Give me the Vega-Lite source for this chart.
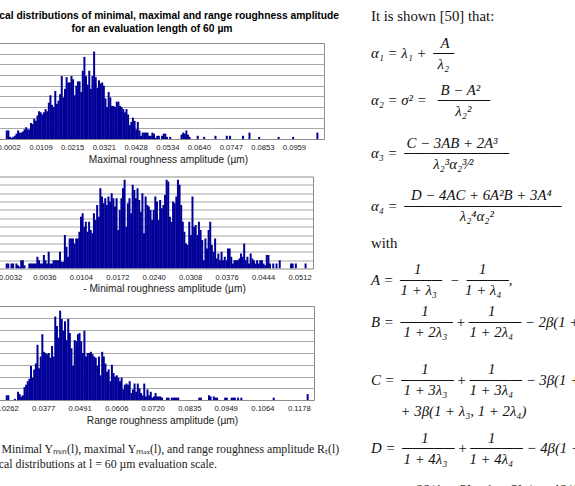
{
  "$schema": "https://vega.github.io/schema/vega-lite/v6.json",
  "background": "white",
  "padding": {"left": -36, "top": 9, "right": 0, "bottom": 0},
  "config": {
    "view": {"stroke": "#8c8c8c", "strokeWidth": 1},
    "axis": {"labelFont": "Liberation Sans", "labelFontSize": 7.6, "labelColor": "#222222", "titleFont": "Liberation Sans", "titleFontSize": 10.2, "titleFontWeight": "normal", "titleColor": "#222222", "ticks": false, "tickSize": 0, "domain": false, "labelPadding": 4.5, "titlePadding": 3, "gridColor": "#a8a8a8", "gridWidth": 1}
  },
  "datasets": {
    "p1": [
      {"v":-0.00044,"n":8},{"v":0.00010,"n":8},{"v":0.00064,"n":2},{"v":0.00118,"n":1},{"v":0.00173,"n":2},{"v":0.00227,"n":3},{"v":0.00281,"n":5},{"v":0.00336,"n":8},{"v":0.00390,"n":6},{"v":0.00444,"n":6},
      {"v":0.00498,"n":7},{"v":0.00553,"n":9},{"v":0.00607,"n":11},{"v":0.00661,"n":9},{"v":0.00716,"n":9},{"v":0.00770,"n":15},{"v":0.00824,"n":14},{"v":0.00878,"n":19},{"v":0.00933,"n":17},{"v":0.00987,"n":22},
      {"v":0.01041,"n":26},{"v":0.01096,"n":25},{"v":0.01150,"n":23},{"v":0.01204,"n":25},{"v":0.01258,"n":28},{"v":0.01313,"n":26},{"v":0.01367,"n":34},{"v":0.01421,"n":41},{"v":0.01475,"n":32},{"v":0.01530,"n":30},
      {"v":0.01584,"n":45},{"v":0.01638,"n":33},{"v":0.01693,"n":36},{"v":0.01747,"n":42},{"v":0.01801,"n":59},{"v":0.01855,"n":39},{"v":0.01910,"n":47},{"v":0.01964,"n":58},{"v":0.02018,"n":53},{"v":0.02073,"n":53},
      {"v":0.02127,"n":59},{"v":0.02181,"n":56},{"v":0.02235,"n":41},{"v":0.02290,"n":50},{"v":0.02344,"n":54},{"v":0.02398,"n":54},{"v":0.02453,"n":44},{"v":0.02507,"n":64},{"v":0.02561,"n":77},{"v":0.02615,"n":59},
      {"v":0.02670,"n":51},{"v":0.02724,"n":64},{"v":0.02778,"n":47},{"v":0.02832,"n":59},{"v":0.02887,"n":82},{"v":0.02941,"n":58},{"v":0.02995,"n":48},{"v":0.03050,"n":55},{"v":0.03104,"n":52},{"v":0.03158,"n":53},
      {"v":0.03212,"n":50},{"v":0.03267,"n":38},{"v":0.03321,"n":30},{"v":0.03375,"n":44},{"v":0.03430,"n":39},{"v":0.03484,"n":31},{"v":0.03538,"n":31},{"v":0.03592,"n":30},{"v":0.03647,"n":35},{"v":0.03701,"n":35},
      {"v":0.03755,"n":31},{"v":0.03810,"n":30},{"v":0.03864,"n":28},{"v":0.03918,"n":25},{"v":0.03972,"n":28},{"v":0.04027,"n":23},{"v":0.04081,"n":13},{"v":0.04135,"n":16},{"v":0.04189,"n":20},{"v":0.04244,"n":17},
      {"v":0.04298,"n":9},{"v":0.04352,"n":16},{"v":0.04407,"n":8},{"v":0.04461,"n":3},{"v":0.04515,"n":6},{"v":0.04569,"n":6},{"v":0.04624,"n":6},{"v":0.04678,"n":6},{"v":0.04732,"n":3},{"v":0.04787,"n":3},
      {"v":0.04841,"n":6},{"v":0.04895,"n":5},{"v":0.04949,"n":1},{"v":0.05004,"n":3},{"v":0.05058,"n":3},{"v":0.05166,"n":3},{"v":0.05221,"n":5},{"v":0.05275,"n":5},{"v":0.05329,"n":2},{"v":0.05438,"n":2},
      {"v":0.05818,"n":4},{"v":0.05872,"n":6},{"v":0.05926,"n":5},{"v":0.05981,"n":8},{"v":0.06035,"n":4},{"v":0.06089,"n":2},{"v":0.06361,"n":3},{"v":0.06578,"n":2},{"v":0.06958,"n":3},{"v":0.07338,"n":3},
      {"v":0.07446,"n":3},{"v":0.07880,"n":3},{"v":0.08098,"n":6},{"v":0.08423,"n":2},{"v":0.09075,"n":2},{"v":0.09563,"n":2},{"v":0.10377,"n":6}
    ],
    "p2": [
      {"v":-0.00342,"n":3},{"v":-0.00312,"n":3},{"v":-0.00252,"n":3},{"v":-0.00222,"n":3},{"v":-0.00161,"n":3},{"v":-0.00131,"n":2},{"v":-0.00101,"n":1},{"v":-0.00071,"n":5},{"v":-0.00041,"n":5},{"v":-0.00011,"n":2},
      {"v":0.00080,"n":3},{"v":0.00110,"n":3},{"v":0.00140,"n":3},{"v":0.00170,"n":3},{"v":0.00200,"n":3},{"v":0.00230,"n":7},{"v":0.00261,"n":5},{"v":0.00291,"n":3},{"v":0.00321,"n":3},{"v":0.00351,"n":8},
      {"v":0.00381,"n":5},{"v":0.00411,"n":3},{"v":0.00441,"n":10},{"v":0.00471,"n":3},{"v":0.00502,"n":3},{"v":0.00532,"n":5},{"v":0.00562,"n":5},{"v":0.00592,"n":5},{"v":0.00622,"n":5},{"v":0.00652,"n":10},
      {"v":0.00682,"n":4},{"v":0.00712,"n":4},{"v":0.00743,"n":20},{"v":0.00773,"n":13},{"v":0.00803,"n":7},{"v":0.00833,"n":18},{"v":0.00863,"n":18},{"v":0.00893,"n":18},{"v":0.00923,"n":15},{"v":0.00954,"n":18},
      {"v":0.00984,"n":18},{"v":0.01014,"n":22},{"v":0.01044,"n":31},{"v":0.01074,"n":33},{"v":0.01104,"n":25},{"v":0.01134,"n":28},{"v":0.01164,"n":22},{"v":0.01195,"n":28},{"v":0.01225,"n":23},{"v":0.01255,"n":21},
      {"v":0.01285,"n":33},{"v":0.01315,"n":29},{"v":0.01345,"n":38},{"v":0.01375,"n":31},{"v":0.01405,"n":48},{"v":0.01436,"n":43},{"v":0.01466,"n":39},{"v":0.01496,"n":42},{"v":0.01526,"n":38},{"v":0.01556,"n":43},
      {"v":0.01586,"n":40},{"v":0.01616,"n":45},{"v":0.01647,"n":42},{"v":0.01677,"n":37},{"v":0.01707,"n":42},{"v":0.01737,"n":23},{"v":0.01767,"n":35},{"v":0.01797,"n":42},{"v":0.01827,"n":48},{"v":0.01857,"n":53},
      {"v":0.01888,"n":25},{"v":0.01918,"n":39},{"v":0.01948,"n":42},{"v":0.01978,"n":33},{"v":0.02008,"n":50},{"v":0.02038,"n":47},{"v":0.02068,"n":42},{"v":0.02098,"n":48},{"v":0.02129,"n":41},{"v":0.02159,"n":34},
      {"v":0.02189,"n":45},{"v":0.02219,"n":21},{"v":0.02249,"n":43},{"v":0.02279,"n":38},{"v":0.02309,"n":37},{"v":0.02340,"n":35},{"v":0.02370,"n":29},{"v":0.02400,"n":35},{"v":0.02430,"n":43},{"v":0.02460,"n":40},
      {"v":0.02490,"n":29},{"v":0.02520,"n":41},{"v":0.02550,"n":36},{"v":0.02581,"n":38},{"v":0.02611,"n":44},{"v":0.02641,"n":53},{"v":0.02671,"n":52},{"v":0.02701,"n":31},{"v":0.02731,"n":28},{"v":0.02761,"n":40},
      {"v":0.02791,"n":39},{"v":0.02822,"n":43},{"v":0.02852,"n":53},{"v":0.02882,"n":50},{"v":0.02912,"n":38},{"v":0.02942,"n":28},{"v":0.02972,"n":22},{"v":0.03002,"n":15},{"v":0.03032,"n":14},{"v":0.03063,"n":28},
      {"v":0.03093,"n":20},{"v":0.03123,"n":43},{"v":0.03153,"n":25},{"v":0.03183,"n":26},{"v":0.03213,"n":20},{"v":0.03243,"n":28},{"v":0.03274,"n":23},{"v":0.03304,"n":17},{"v":0.03334,"n":5},{"v":0.03364,"n":18},
      {"v":0.03394,"n":12},{"v":0.03424,"n":23},{"v":0.03454,"n":28},{"v":0.03484,"n":14},{"v":0.03515,"n":10},{"v":0.03545,"n":18},{"v":0.03575,"n":6},{"v":0.03605,"n":9},{"v":0.03635,"n":5},{"v":0.03665,"n":10},
      {"v":0.03695,"n":5},{"v":0.03725,"n":7},{"v":0.03756,"n":5},{"v":0.03786,"n":12},{"v":0.03816,"n":12},{"v":0.03846,"n":7},{"v":0.03876,"n":3},{"v":0.03906,"n":5},{"v":0.03936,"n":5},{"v":0.03967,"n":5},
      {"v":0.03997,"n":6},{"v":0.04027,"n":9},{"v":0.04057,"n":7},{"v":0.04087,"n":15},{"v":0.04117,"n":5},{"v":0.04147,"n":7},{"v":0.04177,"n":3},{"v":0.04208,"n":9},{"v":0.04238,"n":6},{"v":0.04268,"n":5},
      {"v":0.04298,"n":3},{"v":0.04328,"n":5},{"v":0.04358,"n":3},{"v":0.04388,"n":5},{"v":0.04418,"n":5},{"v":0.04449,"n":3},{"v":0.04479,"n":2},{"v":0.04509,"n":8},{"v":0.04539,"n":8},{"v":0.04569,"n":3},
      {"v":0.04629,"n":3},{"v":0.04690,"n":3},{"v":0.04750,"n":5},{"v":0.04961,"n":3},{"v":0.04991,"n":3},{"v":0.05051,"n":3},{"v":0.05232,"n":3}
    ],
    "p3": [
      {"v":0.02628,"n":4},{"v":0.02679,"n":4},{"v":0.02882,"n":1},{"v":0.02983,"n":7},{"v":0.03034,"n":5},{"v":0.03085,"n":3},{"v":0.03135,"n":4},{"v":0.03186,"n":11},{"v":0.03237,"n":13},{"v":0.03287,"n":16},
      {"v":0.03338,"n":18},{"v":0.03389,"n":29},{"v":0.03439,"n":19},{"v":0.03490,"n":26},{"v":0.03541,"n":31},{"v":0.03592,"n":47},{"v":0.03642,"n":27},{"v":0.03693,"n":37},{"v":0.03744,"n":56},{"v":0.03794,"n":41},
      {"v":0.03845,"n":40},{"v":0.03896,"n":39},{"v":0.03946,"n":40},{"v":0.03997,"n":36},{"v":0.04048,"n":46},{"v":0.04099,"n":37},{"v":0.04149,"n":71},{"v":0.04200,"n":63},{"v":0.04251,"n":53},{"v":0.04301,"n":76},
      {"v":0.04352,"n":69},{"v":0.04403,"n":59},{"v":0.04453,"n":67},{"v":0.04504,"n":51},{"v":0.04555,"n":69},{"v":0.04606,"n":57},{"v":0.04656,"n":44},{"v":0.04707,"n":29},{"v":0.04758,"n":51},{"v":0.04808,"n":50},
      {"v":0.04859,"n":56},{"v":0.04910,"n":57},{"v":0.04960,"n":50},{"v":0.05011,"n":40},{"v":0.05062,"n":59},{"v":0.05113,"n":37},{"v":0.05163,"n":40},{"v":0.05214,"n":40},{"v":0.05265,"n":41},{"v":0.05315,"n":39},
      {"v":0.05366,"n":37},{"v":0.05417,"n":36},{"v":0.05467,"n":29},{"v":0.05518,"n":37},{"v":0.05569,"n":21},{"v":0.05620,"n":41},{"v":0.05670,"n":37},{"v":0.05721,"n":31},{"v":0.05772,"n":24},{"v":0.05822,"n":26},
      {"v":0.05873,"n":16},{"v":0.05924,"n":30},{"v":0.05974,"n":23},{"v":0.06025,"n":20},{"v":0.06076,"n":21},{"v":0.06127,"n":19},{"v":0.06177,"n":16},{"v":0.06228,"n":19},{"v":0.06279,"n":9},{"v":0.06329,"n":13},
      {"v":0.06380,"n":14},{"v":0.06431,"n":13},{"v":0.06481,"n":16},{"v":0.06532,"n":6},{"v":0.06583,"n":9},{"v":0.06634,"n":14},{"v":0.06684,"n":7},{"v":0.06735,"n":14},{"v":0.06786,"n":10},{"v":0.06836,"n":6},
      {"v":0.06887,"n":4},{"v":0.06938,"n":14},{"v":0.06988,"n":3},{"v":0.07039,"n":9},{"v":0.07090,"n":4},{"v":0.07141,"n":7},{"v":0.07191,"n":2},{"v":0.07242,"n":3},{"v":0.07293,"n":6},{"v":0.07343,"n":3},
      {"v":0.07394,"n":3},{"v":0.07445,"n":3},{"v":0.07495,"n":2},{"v":0.07648,"n":2},{"v":0.07698,"n":2},{"v":0.07800,"n":2},{"v":0.07850,"n":2},{"v":0.07901,"n":2},{"v":0.07952,"n":2},{"v":0.08002,"n":2},
      {"v":0.08662,"n":2},{"v":0.08712,"n":2},{"v":0.08966,"n":4},{"v":0.09016,"n":3},{"v":0.09118,"n":3},{"v":0.09169,"n":2},{"v":0.09219,"n":2},{"v":0.09473,"n":2},{"v":0.09523,"n":2},{"v":0.09676,"n":2},
      {"v":0.09726,"n":2},{"v":0.09777,"n":2},{"v":0.09878,"n":2},{"v":0.09980,"n":2},{"v":0.10994,"n":2},{"v":0.12058,"n":5}
    ],
    "txt": [
      {"line":0,"kind":"prose","text":"It is shown [50] that:"},
      {"line":5,"kind":"math","text":"\u200b\u2002\u2002\u2002\u2002\u2002\u2002\u2002\u2002\u2002\u2009A"},
      {"line":7,"kind":"math","text":"\u03b1\u2081 = \u03bb\u2081 + \u2009\u2500\u2500"},
      {"line":9,"kind":"math","text":"\u200b\u2002\u2002\u2002\u2002\u2002\u2002\u2002\u2002\u2002\u03bb\u2082"},
      {"line":14,"kind":"math","text":"\u200b\u2002\u2002\u2002\u2002\u2002\u2002\u2002\u2002\u2002\u2009B \u2212 A\u00b2"},
      {"line":16,"kind":"math","text":"\u03b1\u2082 = \u03c3\u00b2 = \u2002\u2500\u2500\u2500\u2500\u2500"},
      {"line":18,"kind":"math","text":"\u200b\u2002\u2002\u2002\u2002\u2002\u2002\u2002\u2002\u2002\u2002\u2002\u2009\u03bb\u2082\u00b2"},
      {"line":24,"kind":"math","text":"\u200b\u2002\u2002\u2002\u2002\u2009\u2009C \u2212 3AB + 2A\u00b3"},
      {"line":26,"kind":"math","text":"\u03b1\u2083 = \u2009\u2500\u2500\u2500\u2500\u2500\u2500\u2500\u2500\u2500\u2500"},
      {"line":28,"kind":"math","text":"\u200b\u2002\u2002\u2002\u2002\u2002\u2002\u2002\u2002\u2009\u03bb\u2082\u00b3\u03b1\u2082\u00b3\u2044\u00b2"},
      {"line":34,"kind":"math","text":"\u200b\u2002\u2002\u2002\u2002\u2002\u2009D \u2212 4AC + 6A\u00b2B + 3A\u2074"},
      {"line":36,"kind":"math","text":"\u03b1\u2084 = \u2009\u2500\u2500\u2500\u2500\u2500\u2500\u2500\u2500\u2500\u2500\u2500\u2500\u2500\u2500\u2500"},
      {"line":38,"kind":"math","text":"\u200b\u2002\u2002\u2002\u2002\u2002\u2002\u2002\u2002\u2002\u2002\u2002\u2002\u03bb\u2082\u2074\u03b1\u2082\u00b2"},
      {"line":43,"kind":"prose","text":"with"},
      {"line":48,"kind":"math","text":"\u200b\u2002\u2002\u2002\u2002\u2002\u2009\u20091\u2002\u2002\u2002\u2002\u2002\u2002\u2002\u2009\u20091"},
      {"line":50,"kind":"math","text":"A = \u2009\u2500\u2500\u2500\u2500\u2002\u2212\u2002\u2500\u2500\u2500\u2500,"},
      {"line":52,"kind":"math","text":"\u200b\u2002\u2002\u2002\u20021 + \u03bb\u2083\u2002\u2002\u2002\u2009\u20091 + \u03bb\u2084"},
      {"line":56,"kind":"math","text":"\u200b\u2002\u2002\u2002\u2002\u2002\u2002\u2009\u20091\u2002\u2002\u2002\u2002\u2002\u2002\u2002\u20021"},
      {"line":58,"kind":"math","text":"B = \u2009\u2500\u2500\u2500\u2500\u2500\u2009+\u2009\u2500\u2500\u2500\u2500\u2500 \u2212 2\u03b2(1 + \u03bb\u2083, 1 + \u03bb\u2084)"},
      {"line":60,"kind":"math","text":"\u200b\u2002\u2002\u2002\u2002\u20091 + 2\u03bb\u2083\u2002\u2002\u20021 + 2\u03bb\u2084"},
      {"line":67,"kind":"math","text":"\u200b\u2002\u2002\u2002\u2002\u2002\u2002\u2009\u20091\u2002\u2002\u2002\u2002\u2002\u2002\u2002\u20021"},
      {"line":69,"kind":"math","text":"C = \u2009\u2500\u2500\u2500\u2500\u2500\u2009+\u2009\u2500\u2500\u2500\u2500\u2500 \u2212 3\u03b2(1 + 2\u03bb\u2083, 1 + \u03bb\u2084)"},
      {"line":71,"kind":"math","text":"\u200b\u2002\u2002\u2002\u2002\u20091 + 3\u03bb\u2083\u2002\u2002\u20021 + 3\u03bb\u2084"},
      {"line":75,"kind":"math","text":"\u200b\u2002\u2002\u2002\u2002+ 3\u03b2(1 + \u03bb\u2083, 1 + 2\u03bb\u2084)"},
      {"line":80,"kind":"math","text":"\u200b\u2002\u2002\u2002\u2002\u2002\u2002\u2009\u20091\u2002\u2002\u2002\u2002\u2002\u2002\u2002\u20021"},
      {"line":82,"kind":"math","text":"D = \u2009\u2500\u2500\u2500\u2500\u2500\u2009+\u2009\u2500\u2500\u2500\u2500\u2500 \u2212 4\u03b2(1 + 3\u03bb\u2083, 1 + \u03bb\u2084)"},
      {"line":84,"kind":"math","text":"\u200b\u2002\u2002\u2002\u2002\u20091 + 4\u03bb\u2083\u2002\u2002\u20021 + 4\u03bb\u2084"},
      {"line":90,"kind":"math","text":"\u200b\u2002\u2002\u2002\u2002+ 6\u03b2(1 + 2\u03bb\u2083, 1 + 2\u03bb\u2084) \u2212 4\u03b2(1 + \u03bb\u2083, 1 + 3\u03bb\u2084)"}
    ]
  },
  "hconcat": [
    {
      "spacing": 10.5,
      "resolve": {"scale": {"x": "independent", "y": "independent"}},
      "vconcat": [
        {
          "width": 353, "height": 96,
          "title": {"text": ["Statistical distributions of minimal, maximal and range roughness amplitude", "for an evaluation length of 60 \u00b5m"], "anchor": "middle", "frame": "group", "dx": 4.5, "font": "Liberation Sans", "fontSize": 10.3, "fontWeight": "bold", "lineHeight": 12.5, "offset": 9, "color": "#000000"},
          "data": {"name": "p1"},
          "mark": {"type": "bar", "width": 2, "color": "#000099", "clip": true},
          "encoding": {
            "x": {"field": "v", "type": "quantitative", "scale": {"domain": [-0.010757, 0.104302], "nice": false, "zero": false},
                  "axis": {"values": [0.0002, 0.0109, 0.0215, 0.0321, 0.0428, 0.0534, 0.0640, 0.0747, 0.0853, 0.0959], "format": ".4f", "grid": false, "title": "Maximal roughness amplitude (\u00b5m)", "titleX": 197, "labelFlush": false, "labelOverlap": false}},
            "y": {"field": "n", "type": "quantitative", "scale": {"domain": [0, 90], "nice": false},
                  "axis": {"values": [10, 20, 30, 40, 50, 60, 70, 80], "grid": true, "labels": false, "ticks": false, "domain": false, "title": null}}
          }
        },
        {
          "width": 342, "height": 92,
          "data": {"name": "p2"},
          "mark": {"type": "bar", "width": 2, "color": "#000099", "clip": true},
          "encoding": {
            "x": {"field": "v", "type": "quantitative", "scale": {"domain": [-0.009146, 0.052773], "nice": false, "zero": false},
                  "axis": {"values": [-0.0032, 0.0036, 0.0104, 0.0172, 0.0240, 0.0308, 0.0376, 0.0444, 0.0512], "format": ".4f", "grid": false, "title": "- Minimal roughness amplitude (\u00b5m)", "titleX": 193, "labelFlush": false, "labelOverlap": false}},
            "y": {"field": "n", "type": "quantitative", "scale": {"domain": [0, 55], "nice": false},
                  "axis": {"values": [5, 10, 15, 20, 25, 30, 35, 40, 45, 50], "grid": true, "labels": false, "ticks": false, "domain": false, "title": null}}
          }
        },
        {
          "width": 343, "height": 94,
          "data": {"name": "p3"},
          "title": {"text": ["Fig. 5. Minimal Y\u2098\u1d62\u2099(l), maximal Y\u2098\u2090\u2093(l), and range roughness amplitude R\u209c(l)", "statistical distributions at l = 60 \u00b5m evaluation scale."], "orient": "bottom", "anchor": "start", "frame": "group", "dx": -3, "font": "Liberation Serif", "fontSize": 11.8, "fontWeight": "normal", "lineHeight": 14.5, "offset": 19, "color": "#1a1a1a"},
          "mark": {"type": "bar", "width": 2, "color": "#000099", "clip": true},
          "encoding": {
            "x": {"field": "v", "type": "quantitative", "scale": {"domain": [0.016648, 0.121], "nice": false, "zero": false},
                  "axis": {"values": [0.0262, 0.0377, 0.0491, 0.0606, 0.0720, 0.0835, 0.0949, 0.1064, 0.1178], "format": ".4f", "grid": false, "title": "Range roughness amplitude (\u00b5m)", "titleX": 191, "labelFlush": false, "labelOverlap": false}},
            "y": {"field": "n", "type": "quantitative", "scale": {"domain": [0, 80], "nice": false},
                  "axis": {"values": [10, 20, 30, 40, 50, 60, 70], "grid": true, "labels": false, "ticks": false, "domain": false, "title": null}}
          }
        }
      ]
    },
    {
      "width": 210, "height": 445,
      "view": {"stroke": null},
      "data": {"name": "txt"},
      "encoding": {
        "x": {"datum": 0, "type": "quantitative", "scale": {"domain": [0, 1]}, "axis": null},
        "y": {"field": "line", "type": "quantitative", "scale": {"domain": [4.9, 89.34], "reverse": true, "nice": false, "zero": false}, "axis": null},
        "text": {"field": "text", "type": "nominal"}
      },
      "layer": [
        {"transform": [{"filter": "datum.kind === 'prose'"}], "mark": {"type": "text", "align": "left", "baseline": "middle", "font": "Liberation Serif", "fontSize": 14.8, "color": "#111111"}},
        {"transform": [{"filter": "datum.kind === 'math'"}], "mark": {"type": "text", "align": "left", "baseline": "middle", "font": "Liberation Serif", "fontSize": 14.8, "fontStyle": "italic", "color": "#111111"}}
      ]
    }
  ],
  "spacing": 30
}
